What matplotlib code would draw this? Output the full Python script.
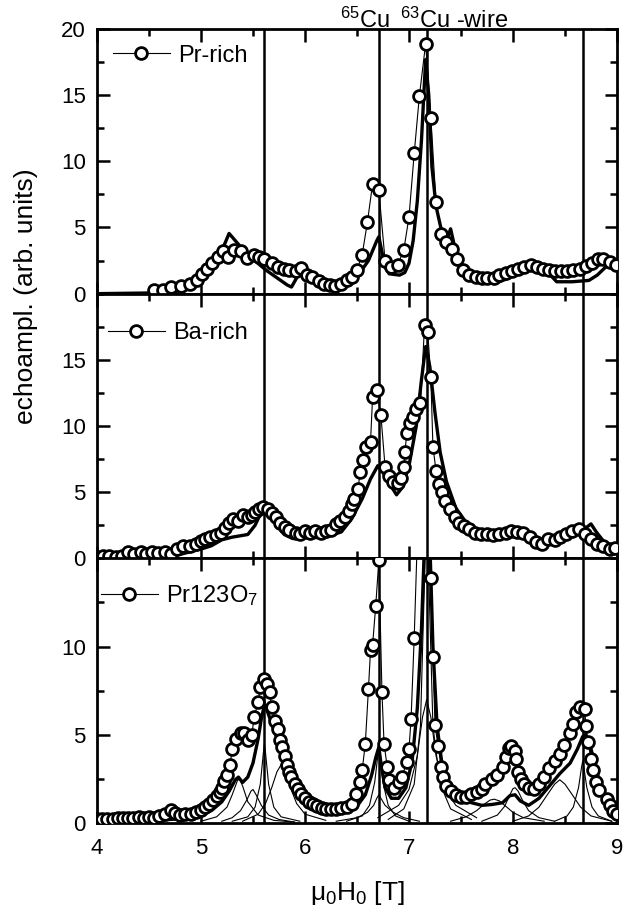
import numpy as np
import matplotlib
matplotlib.use("Agg")
import matplotlib.pyplot as plt
from matplotlib.ticker import MultipleLocator

plt.rcParams['font.family'] = ['Liberation Sans', 'DejaVu Sans']
plt.rcParams['mathtext.fontset'] = 'custom'
plt.rcParams['mathtext.rm'] = 'Liberation Sans'
plt.rcParams['mathtext.it'] = 'Liberation Sans:italic'

# ---- data (field in T, echo amplitude in arb. units) ----
# Pr-rich: measured points
pr_x = [4.55, 4.63, 4.71, 4.81, 4.89, 4.96, 5.01, 5.06, 5.11, 5.16, 5.21, 5.26, 5.32, 5.38,
        5.44, 5.51, 5.56, 5.61, 5.68, 5.74, 5.80, 5.85, 5.91, 5.96, 6.02, 6.07, 6.13, 6.18,
        6.24, 6.29, 6.35, 6.40, 6.45, 6.50, 6.55, 6.60, 6.65, 6.71, 6.77, 6.83, 6.89, 6.95,
        7.00, 7.05, 7.10, 7.16, 7.21, 7.26, 7.31, 7.36, 7.41, 7.46, 7.52, 7.58, 7.64, 7.70,
        7.75, 7.82, 7.87, 7.93, 7.99, 8.05, 8.11, 8.17, 8.23, 8.29, 8.35, 8.40, 8.46, 8.52,
        8.58, 8.64, 8.70, 8.76, 8.82, 8.87, 8.93, 8.99]
pr_y = [0.25, 0.3, 0.5, 0.55, 0.75, 1.0, 1.5, 1.9, 2.3, 2.8, 3.2, 2.8, 3.3, 3.2,
        2.7, 2.9, 2.8, 2.65, 2.3, 2.0, 1.9, 1.8, 1.75, 1.95, 1.4, 1.25, 0.95, 0.75,
        0.65, 0.55, 0.75, 1.0, 1.25, 1.8, 2.95, 5.4, 8.3, 7.8, 2.5, 2.0, 2.15, 3.3,
        5.8, 10.6, 14.95, 18.9, 13.3, 6.9, 4.5, 3.9, 3.4, 2.65, 1.8, 1.4, 1.25, 1.15,
        1.15, 1.2, 1.4, 1.55, 1.75, 1.9, 2.05, 2.15, 2.0, 1.9, 1.8, 1.7, 1.7, 1.75,
        1.8, 1.9, 2.1, 2.35, 2.6, 2.65, 2.4, 2.15]
# Pr-rich: simulation
prs_x = [4.0, 4.5, 4.8, 4.93, 5.05, 5.15, 5.27, 5.44, 5.63, 5.83, 5.87, 5.96, 6.06, 6.22,
         6.34, 6.49, 6.61, 6.69, 6.71, 6.77, 6.81, 6.91, 6.96, 7.0, 7.04, 7.08, 7.12, 7.16,
         7.19, 7.22, 7.26, 7.32, 7.36, 7.40, 7.44, 7.51, 7.59, 7.71, 7.82, 7.95, 8.07, 8.19,
         8.30, 8.42, 8.57, 8.73, 8.81, 8.89, 8.96, 9.0]
prs_y = [0.0, 0.05, 0.2, 0.4, 1.3, 2.3, 4.55, 3.0, 1.75, 0.65, 0.5, 1.75, 1.5, 0.75,
         0.65, 1.15, 2.5, 4.0, 4.3, 2.0, 1.5, 1.4, 1.6, 2.3, 4.0, 7.0, 11.6, 17.7,
         15.0, 9.6, 6.6, 4.5, 4.0, 4.9, 3.5, 2.0, 1.25, 0.9, 0.75, 1.15, 1.75, 2.15,
         1.9, 0.9, 0.9, 1.0, 1.4, 2.0, 2.3, 2.3]

# Ba-rich: measured points
ba_x = [4.0, 4.06, 4.12, 4.18, 4.24, 4.30, 4.36, 4.42, 4.47, 4.53, 4.59, 4.65, 4.71, 4.77,
        4.83, 4.89, 4.95, 5.0, 5.04, 5.09, 5.14, 5.19, 5.23, 5.27, 5.31, 5.36, 5.40, 5.45,
        5.49, 5.52, 5.56, 5.60, 5.64, 5.68, 5.72, 5.76, 5.81, 5.85, 5.91, 5.95, 6.0, 6.05,
        6.10, 6.15, 6.20, 6.25, 6.30, 6.34, 6.38, 6.42, 6.45, 6.47, 6.51, 6.53, 6.56, 6.59,
        6.63, 6.65, 6.69, 6.73, 6.77, 6.81, 6.85, 6.89, 6.92, 6.95, 6.96, 6.98, 7.01, 7.04,
        7.07, 7.11, 7.15, 7.18, 7.21, 7.23, 7.26, 7.29, 7.32, 7.35, 7.39, 7.44, 7.48, 7.53,
        7.58, 7.63, 7.69, 7.75, 7.81, 7.87, 7.93, 7.98, 8.04, 8.10, 8.16, 8.22, 8.28, 8.34,
        8.40, 8.45, 8.51, 8.57, 8.63, 8.69, 8.75, 8.81, 8.87, 8.93, 8.98]
ba_y = [0.1, 0.2, 0.15, 0.1, 0.2, 0.45, 0.35, 0.45, 0.35, 0.45, 0.4, 0.5, 0.35, 0.7,
        0.9, 0.95, 1.1, 1.3, 1.45, 1.6, 1.8, 1.95, 2.3, 2.65, 3.0, 2.85, 3.3, 3.15,
        3.3, 3.5, 3.7, 3.85, 3.75, 3.45, 3.1, 2.7, 2.35, 2.15, 1.95, 1.85, 2.05, 1.9,
        2.05, 1.95, 2.05, 2.15, 2.6, 2.85, 3.1, 3.6, 4.1, 4.5, 5.25, 6.5, 7.4, 8.4,
        8.8, 12.2, 12.7, 10.8, 6.9, 6.25, 5.75, 5.7, 6.1, 6.9, 8.0, 9.5, 10.2, 10.7,
        11.3, 11.7, 17.65, 17.1, 13.7, 8.45, 6.6, 5.6, 5.0, 4.35, 3.75, 3.1, 2.7, 2.45,
        2.2, 1.95, 1.85, 1.85, 1.75, 1.85, 1.95, 2.1, 2.0, 1.9, 1.6, 1.2, 1.1, 1.45,
        1.35, 1.6, 1.85, 2.1, 2.2, 1.85, 1.45, 1.1, 0.9, 0.7, 0.8]
# Ba-rich: simulation
bas_x = [4.0, 4.4, 4.8, 5.0, 5.1, 5.2, 5.3, 5.45, 5.52, 5.58, 5.61, 5.65, 5.72, 5.8,
         5.88, 6.2, 6.35, 6.45, 6.55, 6.63, 6.7, 6.75, 6.8, 6.88, 6.93, 7.0, 7.07, 7.12,
         7.16, 7.2, 7.25, 7.3, 7.36, 7.45, 7.55, 7.65, 7.8, 8.0, 8.1, 8.2, 8.3, 8.5,
         8.65, 8.75, 8.8, 8.87, 8.93, 9.0]
bas_y = [0.0, 0.05, 0.3, 0.7, 0.95, 1.4, 1.6, 1.8, 2.5, 3.5, 4.1, 3.5, 2.6, 1.8,
         1.5, 1.6, 2.0, 3.0, 4.5, 6.0, 7.0, 6.5, 5.8, 4.8, 5.3, 7.0, 10.0, 13.5,
         16.0, 14.5, 11.0, 8.0, 5.8, 3.8, 2.7, 2.0, 1.7, 1.9, 1.9, 1.5, 1.3, 1.6,
         2.0, 2.6, 2.0, 1.3, 0.7, 0.6]

# Pr123O7: measured points
p7_x = [4.0, 4.05, 4.1, 4.15, 4.2, 4.25, 4.3, 4.35, 4.4, 4.45, 4.5, 4.55, 4.6, 4.65,
        4.71, 4.75, 4.8, 4.85, 4.9, 4.95, 5.0, 5.04, 5.08, 5.12, 5.15, 5.18, 5.2, 5.22,
        5.25, 5.28, 5.30, 5.34, 5.38, 5.41, 5.45, 5.49, 5.51, 5.55, 5.57, 5.61, 5.63, 5.66,
        5.68, 5.71, 5.74, 5.76, 5.78, 5.81, 5.83, 5.85, 5.87, 5.90, 5.93, 5.96, 6.0, 6.04,
        6.08, 6.12, 6.16, 6.2, 6.25, 6.3, 6.35, 6.4, 6.45, 6.49, 6.53, 6.55, 6.58, 6.61,
        6.63, 6.65, 6.68, 6.71, 6.74, 6.76, 6.79, 6.81, 6.86, 6.9, 6.93, 6.98, 7.0, 7.02,
        7.05, 7.09, 7.14, 7.18, 7.21, 7.23, 7.25, 7.28, 7.31, 7.33, 7.36, 7.4, 7.45, 7.5,
        7.55, 7.6, 7.65, 7.7, 7.73, 7.8, 7.85, 7.9, 7.93, 7.96, 7.98, 8.02, 8.03, 8.05,
        8.08, 8.11, 8.15, 8.2, 8.25, 8.3, 8.35, 8.4, 8.45, 8.49, 8.55, 8.58, 8.61, 8.64,
        8.69, 8.70, 8.72, 8.75, 8.77, 8.80, 8.83, 8.9, 8.93, 8.96, 9.0]
p7_y = [0.2, 0.25, 0.2, 0.25, 0.3, 0.3, 0.3, 0.3, 0.35, 0.3, 0.35, 0.3, 0.4, 0.5,
        0.72, 0.55, 0.45, 0.5, 0.5, 0.6, 0.75, 0.9, 1.1, 1.3, 1.55, 1.75, 2.0, 2.4,
        2.7, 3.3, 4.2, 4.75, 5.1, 5.1, 4.7, 5.0, 6.0, 6.85, 7.7, 8.15, 7.9, 7.4,
        6.55, 5.8, 5.3, 4.7, 4.3, 3.8, 3.3, 2.9, 2.6, 2.2, 1.9, 1.65, 1.4, 1.2,
        1.05, 0.95, 0.85, 0.8, 0.8, 0.8, 0.85, 0.9, 1.1, 1.65, 2.3, 3.0, 4.5, 7.6,
        9.8, 10.1, 12.3, 14.9, 7.4, 4.5, 3.2, 2.45, 2.0, 2.3, 2.6, 3.45, 4.2, 5.9,
        10.5, 18.0, 25.0, 22.0, 13.9, 9.4, 5.55, 4.35, 3.2, 2.6, 2.1, 1.8, 1.6, 1.45,
        1.5, 1.65, 1.75, 1.9, 2.2, 2.5, 2.7, 3.2, 3.75, 4.25, 4.35, 4.1, 3.6, 2.9,
        2.5, 2.2, 2.0, 1.95, 2.2, 2.6, 3.1, 3.5, 3.9, 4.4, 5.1, 5.6, 6.3, 6.55,
        6.45, 5.5, 4.6, 3.65, 3.0, 2.3, 1.85, 1.35, 1.0, 0.7, 0.5]
# Pr123O7: simulation (sum)
p7s_x = [4.0, 4.5, 4.9, 5.1, 5.2, 5.27, 5.33, 5.36, 5.4, 5.45, 5.5, 5.55, 5.58, 5.61,
         5.64, 5.7, 5.77, 5.85, 5.92, 6.0, 6.1, 6.2, 6.3, 6.4, 6.5, 6.58, 6.64, 6.68,
         6.71, 6.73, 6.77, 6.83, 6.9, 6.97, 7.03, 7.08, 7.12, 7.15, 7.17, 7.2, 7.23, 7.27,
         7.32, 7.4, 7.5, 7.6, 7.7, 7.8, 7.9, 7.97, 8.02, 8.07, 8.15, 8.25, 8.35, 8.45,
         8.55, 8.62, 8.67, 8.7, 8.75, 8.8, 8.87, 8.95, 9.0]
p7s_y = [0.05, 0.1, 0.3, 0.7, 1.2, 1.8, 2.45, 2.6, 2.3, 2.6, 3.4, 4.8, 5.9, 6.7,
         6.3, 5.3, 4.2, 3.0, 2.0, 1.2, 0.75, 0.55, 0.5, 0.6, 0.95, 1.6, 2.7, 3.7,
         4.3, 3.4, 2.0, 1.4, 1.4, 2.0, 3.5, 6.5, 11.0, 16.0, 20.0, 16.0, 10.0, 5.5,
         3.2, 2.0, 1.45, 1.15, 1.0, 1.05, 1.15, 1.55, 1.6, 1.25, 1.0, 1.4, 2.1, 2.8,
         3.4, 4.2, 4.9, 5.0, 4.2, 3.0, 1.7, 0.8, 0.5]
# Pr123O7: individual line components
comp_x = [
    [5.0, 5.15, 5.25, 5.3, 5.35, 5.37, 5.4, 5.45, 5.55, 5.7, 5.9],
    [5.2, 5.3, 5.38, 5.44, 5.48, 5.5, 5.53, 5.58, 5.65, 5.75, 5.9],
    [5.3, 5.45, 5.52, 5.57, 5.6, 5.61, 5.62, 5.65, 5.7, 5.77, 5.95],
    [5.4, 5.55, 5.62, 5.68, 5.73, 5.77, 5.81, 5.86, 5.92, 6.0, 6.2],
    [6.4, 6.55, 6.62, 6.67, 6.7, 6.71, 6.72, 6.75, 6.8, 6.87, 7.0],
    [6.3, 6.5, 6.6, 6.66, 6.69, 6.71, 6.73, 6.77, 6.85, 6.95, 7.1],
    [6.8, 6.95, 7.05, 7.11, 7.15, 7.17, 7.19, 7.23, 7.3, 7.4, 7.6],
    [6.7, 6.9, 7.0, 7.08, 7.13, 7.17, 7.21, 7.26, 7.35, 7.45, 7.65],
    [7.4, 7.55, 7.65, 7.72, 7.78, 7.82, 7.87, 7.93, 8.0, 8.1, 8.3],
    [7.7, 7.85, 7.92, 7.97, 8.0, 8.02, 8.05, 8.09, 8.15, 8.25, 8.4],
    [8.0, 8.15, 8.25, 8.33, 8.4, 8.45, 8.5, 8.57, 8.65, 8.75, 8.95],
    [8.4, 8.52, 8.58, 8.63, 8.66, 8.67, 8.68, 8.71, 8.76, 8.82, 8.95],
]
comp_y = [
    [0.1, 0.35, 0.9, 1.6, 2.4, 2.5, 2.1, 1.2, 0.45, 0.15, 0.05],
    [0.1, 0.3, 0.7, 1.3, 1.8, 1.9, 1.6, 1.0, 0.45, 0.2, 0.05],
    [0.1, 0.35, 0.9, 2.2, 4.0, 4.5, 4.0, 2.2, 0.9, 0.35, 0.1],
    [0.1, 0.5, 1.1, 2.0, 2.9, 3.3, 2.9, 2.0, 1.1, 0.5, 0.15],
    [0.1, 0.4, 1.0, 2.3, 3.8, 4.2, 3.8, 2.3, 1.0, 0.4, 0.1],
    [0.1, 0.3, 0.6, 1.0, 1.4, 1.6, 1.4, 1.0, 0.6, 0.3, 0.1],
    [0.2, 0.8, 2.2, 5.5, 14.0, 20.0, 14.0, 5.5, 2.2, 0.8, 0.2],
    [0.3, 1.0, 1.9, 3.8, 6.0, 7.0, 6.0, 3.8, 1.9, 1.0, 0.3],
    [0.1, 0.35, 0.7, 1.05, 1.3, 1.35, 1.25, 0.95, 0.6, 0.3, 0.1],
    [0.1, 0.45, 0.95, 1.6, 1.95, 2.0, 1.8, 1.3, 0.7, 0.3, 0.1],
    [0.1, 0.4, 0.9, 1.6, 2.2, 2.45, 2.2, 1.6, 0.9, 0.4, 0.1],
    [0.1, 0.4, 0.9, 2.0, 3.2, 3.5, 3.2, 2.0, 0.9, 0.4, 0.1],
]

vlines = [5.61, 6.71, 7.17, 8.67]
labels = ['Pr-rich', 'Ba-rich', 'Pr123O$_7$']
ylims = [20, 20, 15]
leg_pos = [(0.031, 0.899), (0.021, 0.85), (0.008, 0.858)]

# ---- figure ----
fig = plt.figure(figsize=(6.41, 9.10), dpi=100)
L, W = 97/641, 520/641
H = 264.67/910
B = 87/910
axes = [fig.add_axes([L, B + (2 - i)*H, W, H]) for i in range(3)]

meas = [(pr_x, pr_y), (ba_x, ba_y), (p7_x, p7_y)]
sims = [(prs_x, prs_y), (bas_x, bas_y), (p7s_x, p7s_y)]

for i, ax in enumerate(axes):
    for v in vlines:
        ax.axvline(v, color='black', lw=1.8, zorder=1)
    if i == 2:
        for cx, cy in zip(comp_x, comp_y):
            ax.plot(cx, cy, color='black', lw=0.8, zorder=2)
    ax.plot(sims[i][0], sims[i][1], color='black', lw=2.4, zorder=3)
    ax.plot(meas[i][0], meas[i][1], color='black', lw=0.8, marker='o', ms=8.5,
            mfc='white', mec='black', mew=2.0, zorder=4, label=labels[i])
    ax.set_xlim(4, 9)
    ax.set_ylim(0, ylims[i])
    ax.xaxis.set_major_locator(MultipleLocator(1))
    ax.xaxis.set_minor_locator(MultipleLocator(0.5))
    ax.yaxis.set_major_locator(MultipleLocator(5))
    ax.yaxis.set_minor_locator(MultipleLocator(2.5))
    ax.tick_params(which='both', direction='in', top=True, right=True, width=1.8,
                   labelsize=16)
    ax.tick_params(which='major', length=9)
    ax.tick_params(which='minor', length=5)
    ax.tick_params(axis='y', pad=8)
    ax.tick_params(axis='x', pad=11)
    for s in ax.spines.values():
        s.set_linewidth(2.0)
    if i < 2:
        ax.tick_params(labelbottom=False)
    if i > 0:
        ax.set_yticks([0, 5, 10, 15] if i == 1 else [0, 5, 10])
    leg = ax.legend(loc='center left', bbox_to_anchor=leg_pos[i], frameon=False,
                    fontsize=17, handlelength=2.4, handletextpad=0.35,
                    borderpad=0, borderaxespad=0)

axes[0].text(6.82, 1.004, '$^{65}$Cu', transform=axes[0].get_xaxis_transform(),
             ha='right', va='baseline', fontsize=17)
axes[0].text(6.91, 1.004, '$^{63}$Cu -wire', transform=axes[0].get_xaxis_transform(),
             ha='left', va='baseline', fontsize=17)

axes[2].set_xlabel('μ$_0$H$_0$ [T]', fontsize=19, labelpad=14)
fig.text(26/641, 1 - 296/910, 'echoampl. (arb. units)', rotation=90,
         ha='center', va='center', fontsize=19)

fig.savefig('out.png', dpi=100)
